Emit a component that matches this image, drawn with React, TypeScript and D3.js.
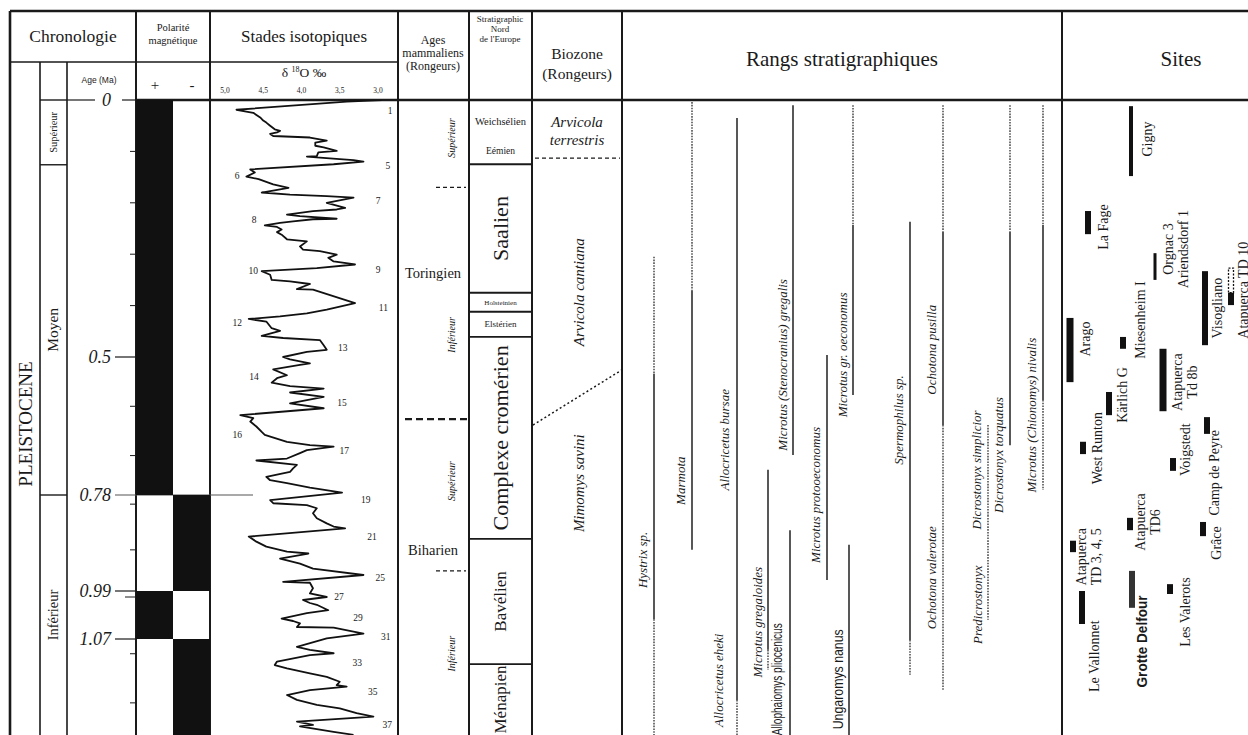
import React from 'react';
import * as d3 from 'd3';

// ---- data (ages in Ma) ----
const ageTicks = [0.1, 0.2, 0.3, 0.4, 0.6, 0.7, 0.8, 0.9, 1.0, 1.1, 1.2];
const ageMarks = [0, 0.5, 0.78, 0.99, 1.07];
const ageMarkText = ['0', '0.5', '0.78', '0.99', '1.07'];

const polarityBreaks = [0, 0.78, 0.99, 1.07, 1.3];
const polaritySign = ['+', '-', '+', '-'];

const subEpochNames = ['Supérieur', 'Moyen', 'Inférieur'];
const subEpochBreaks = [0, 0.126, 0.78, 1.3];

const isoScaleTicks = [5.0, 4.5, 4.0, 3.5, 3.0];
const isoScaleText = ['5,0', '4,5', '4,0', '3,5', '3,0'];

// [age, d18O]
const isoCurve: [number, number][] = [
  [0.0, 2.95], [0.003, 3.41], [0.019, 4.85], [0.025, 4.63], [0.034, 4.54], [0.04, 4.5], [0.044, 4.46],
  [0.05, 4.41], [0.057, 4.35], [0.06, 4.28], [0.063, 4.32], [0.066, 4.41], [0.07, 4.37], [0.073, 3.89],
  [0.079, 3.67], [0.083, 3.82], [0.089, 3.82], [0.092, 3.71], [0.099, 3.54], [0.102, 3.78], [0.109, 3.8],
  [0.11, 3.93], [0.112, 3.76], [0.115, 3.5], [0.117, 3.32], [0.12, 3.19], [0.125, 3.58], [0.135, 4.67],
  [0.141, 4.61], [0.149, 4.72], [0.154, 4.56], [0.164, 4.37], [0.171, 4.17], [0.174, 4.28], [0.18, 4.52],
  [0.184, 4.15], [0.187, 3.67], [0.19, 3.32], [0.2, 3.67], [0.21, 3.43], [0.213, 3.54], [0.216, 3.85],
  [0.223, 4.19], [0.226, 4.02], [0.231, 3.54], [0.232, 3.85], [0.236, 4.11], [0.239, 4.28], [0.244, 4.48],
  [0.247, 4.32], [0.252, 4.26], [0.257, 4.32], [0.262, 4.26], [0.271, 4.19], [0.275, 3.93], [0.285, 4.02],
  [0.291, 3.98], [0.294, 3.76], [0.301, 3.54], [0.307, 3.65], [0.314, 3.58], [0.32, 3.3], [0.327, 3.8],
  [0.333, 4.52], [0.34, 4.41], [0.35, 4.39], [0.353, 4.15], [0.358, 3.89], [0.368, 4.06], [0.369, 3.85],
  [0.395, 3.3], [0.408, 3.67], [0.415, 3.93], [0.421, 4.28], [0.426, 4.69], [0.431, 4.46], [0.444, 4.39],
  [0.449, 4.28], [0.459, 4.52], [0.463, 4.24], [0.467, 3.76], [0.477, 3.71], [0.486, 3.67], [0.49, 3.93],
  [0.5, 4.24], [0.505, 4.15], [0.513, 3.89], [0.516, 4.02], [0.525, 4.37], [0.537, 4.19], [0.543, 4.32],
  [0.552, 4.39], [0.559, 4.15], [0.564, 3.71], [0.572, 4.15], [0.581, 3.71], [0.594, 4.15], [0.604, 3.71],
  [0.618, 4.8], [0.624, 4.63], [0.631, 4.67], [0.641, 4.59], [0.652, 4.52], [0.658, 4.48], [0.672, 4.19],
  [0.679, 3.89], [0.682, 3.58], [0.689, 3.93], [0.695, 4.02], [0.706, 4.19], [0.71, 4.59], [0.719, 4.06],
  [0.726, 4.11], [0.733, 4.15], [0.743, 4.46], [0.75, 4.41], [0.756, 4.19], [0.765, 3.89], [0.775, 3.47],
  [0.791, 4.41], [0.798, 4.37], [0.802, 3.93], [0.809, 3.8], [0.82, 3.85], [0.831, 3.8], [0.842, 3.67],
  [0.849, 3.58], [0.853, 3.43], [0.871, 4.69], [0.882, 4.59], [0.893, 4.46], [0.904, 4.19], [0.908, 3.91],
  [0.919, 4.28], [0.93, 4.02], [0.941, 3.85], [0.955, 3.19], [0.97, 4.24], [0.972, 3.89], [0.984, 3.85],
  [0.994, 3.89], [1.0, 3.67], [1.005, 3.98], [1.01, 3.89], [1.013, 3.8], [1.022, 3.65], [1.027, 3.93],
  [1.036, 4.26], [1.04, 4.11], [1.044, 4.02], [1.05, 4.06], [1.051, 3.58], [1.061, 3.19], [1.069, 3.67],
  [1.086, 4.06], [1.092, 3.89], [1.099, 3.58], [1.103, 3.89], [1.116, 4.32], [1.123, 4.35], [1.13, 4.19],
  [1.14, 3.89], [1.147, 3.67], [1.157, 3.5], [1.164, 3.54], [1.167, 3.41], [1.174, 3.89], [1.184, 4.19],
  [1.194, 4.06], [1.204, 3.8], [1.211, 3.5], [1.221, 3.28], [1.228, 3.06], [1.235, 3.76], [1.238, 4.06],
  [1.245, 3.85], [1.248, 4.02], [1.259, 3.58], [1.265, 3.32],
];

const stageNums = ['1', '5', '6', '7', '8', '9', '10', '11', '12', '13', '14', '15', '16', '17', '19', '21', '25', '27', '29', '31', '33', '35', '37'];
const stageAge = [0.021, 0.129, 0.148, 0.197, 0.234, 0.33, 0.332, 0.404, 0.434, 0.482, 0.541, 0.593, 0.658, 0.691, 0.791, 0.872, 0.962, 1.0, 1.035, 1.067, 1.119, 1.178, 1.245];
const stageD18O = [2.84, 2.87, 4.84, 3.0, 4.62, 3.0, 4.63, 2.93, 4.84, 3.46, 4.62, 3.47, 4.84, 3.44, 3.16, 3.08, 2.97, 3.51, 3.26, 2.9, 3.27, 3.07, 2.88];

const mammalAges = ['Toringien', 'Biharien'];
const mammalAgeAt = [0.337, 0.901];
const mammalSub = ['Supérieur', 'Inférieur', 'Supérieur', 'Inférieur'];
const mammalSubAt = [0.074, 0.457, 0.752, 1.1];
const mammalLimits = [0.17, 0.626, 0.946];
const mammalLimitKind = ['minor', 'major', 'minor'];

const stratNames = ['Weichsélien', 'Saalien', 'Holsteinien', 'Elstérien', 'Complexe cromérien', 'Bavélien', 'Ménapien'];
const stratBreaks = [0, 0.125, 0.375, 0.412, 0.461, 0.876, 1.121, 1.3];

const biozoneNames = ['Arvicola cantiana', 'Mimomys savini'];
const biozoneAt = [0.374, 0.756];
const biozoneTop = ['Arvicola', 'terrestris'];
const biozoneTopAt = 0.058;
const biozoneLimit = 0.113;
const biozoneSlope = [0.638, 0.526];

const taxa = [
  'Hystrix sp.', 'Marmota', 'Allocricetus bursae', 'Allocricetus eheki', 'Microtus gregaloides',
  'Allophaiomys pliocenicus', 'Microtus (Stenocranius) gregalis', 'Microtus protooeconomus', 'Ungaromys nanus',
  'Microtus gr. oeconomus', 'Spermophilus sp.', 'Ochotona pusilla', 'Ochotona valerotae',
  'Dicrostonyx simplicior', 'Predicrostonyx', 'Dicrostonyx torquatus', 'Microtus (Chionomys) nivalis',
];
type Seg = [number, number, 'solid' | 'dotted'];
const taxaRanges: Seg[][] = [
  [[0.305, 0.534, 'dotted'], [0.534, 1.037, 'solid'], [1.037, 1.3, 'dotted']],
  [[0.004, 0.37, 'dotted'], [0.37, 0.9, 'solid']],
  [[0.035, 1.194, 'solid'], [1.194, 1.3, 'dotted']],
  [],
  [[0.729, 1.092, 'solid'], [1.092, 1.133, 'dotted']],
  [[0.857, 1.3, 'solid']],
  [[0.01, 0.699, 'solid']],
  [[0.496, 0.966, 'solid']],
  [[0.889, 1.3, 'solid']],
  [[0.01, 0.243, 'dotted'], [0.243, 0.577, 'solid']],
  [[0.237, 1.072, 'solid'], [1.072, 1.143, 'dotted']],
  [[0.01, 0.257, 'dotted'], [0.257, 0.638, 'solid']],
  [[0.638, 1.174, 'dotted']],
  [[0.638, 0.824, 'dotted']],
  [[0.824, 1.038, 'dotted']],
  [[0.01, 0.257, 'dotted'], [0.257, 0.679, 'solid']],
  [[0.01, 0.243, 'dotted'], [0.243, 0.587, 'solid'], [0.587, 0.77, 'dotted']],
];
const taxaLabelAt = [0.922, 0.751, 0.668, 1.154, 1.042, 1.152, 0.516, 0.78, 1.152, 0.496, 0.628, 0.486, 0.961, 0.729, 1.013, 0.699, 0.618];

const sites = [
  'Gigny', 'La Fage', 'Orgnac 3|Ariendsdorf 1', 'Visogliano', 'Atapuerca TD 10', 'Miesenheim I', 'Arago',
  'Atapuerca|Td 8b', 'Kärlich G', 'West Runton', 'Camp de Peyre', 'Voigstedt', 'Atapuerca|TD6',
  'Atapuerca|TD 3, 4, 5', 'Grâce', 'Les Valerots', 'Grotte Delfour', 'Le Vallonnet',
];
const siteRange: [number, number][] = [
  [0.012, 0.148], [0.216, 0.261], [0.298, 0.35], [0.333, 0.477], [0.375, 0.399], [0.461, 0.484], [0.424, 0.551],
  [0.484, 0.61], [0.571, 0.618], [0.672, 0.697], [0.622, 0.656], [0.705, 0.731], [0.83, 0.857],
  [0.88, 0.905], [0.839, 0.87], [0.975, 0.995], [0.946, 1.018], [0.99, 1.045],
];
const siteDoubtful: ([number, number] | null)[] = [null, null, null, null, [0.327, 0.375], null, null, null, null, null, null, null, null, null, null, null, null, null];
const siteLabelAt = [0.076, 0.247, 0.29, 0.405, 0.37, 0.428, 0.465, 0.551, 0.577, 0.685, 0.735, 0.688, 0.839, 0.915, 0.885, 1.025, 1.075, 1.105];

// ---- layout ----
const W = 1248;
const H = 735;
const COL = { left: 10, sub1: 40, sub2: 67, pol: 136, polMid: 173, iso: 210, ages: 398, strat: 469, bio: 532, rangs: 622, sites: 1062 };
const ROW = { top: 11, head: 62, body: 100 };
const taxaLineX = [654, 692, 737, 0, 768, 790, 793, 827, 849, 853, 910, 943, 943, 988, 988, 1010, 1043];
const taxaLabelX = [642, 680, 724, 718, 757, 777, 782, 815, 838, 842, 898, 931, 931, 976, 977, 998, 1031];
const taxaLabelLen = [0, 0, 0, 0, 0, 112, 0, 0, 100, 0, 0, 0, 0, 0, 0, 0, 0];
const siteBarX = [1131, 1088, 1155, 1205, 1231, 1123, 1070, 1163, 1109, 1083, 1207, 1173, 1130, 1073, 1203, 1170, 1132, 1082];
const siteBarW = [4, 6, 3, 6, 6, 6, 7, 7, 6, 6, 6, 6, 6, 6, 6, 6, 6, 6];
const siteLabelX = [1147, 1103, 1168, 1217, 1243, 1140, 1085, 1177, 1122, 1097, 1214, 1185, 1140, 1081, 1216, 1185, 1142, 1094];

const SERIF = "'Liberation Serif', 'Times New Roman', serif";
const SANS = "'Liberation Sans', Arial, sans-serif";
const NARROW = "'Liberation Sans Narrow', 'Liberation Sans', sans-serif";
const INK = '#1a1a1a';

type VProps = {
  x: number; y: number; size: number; italic?: boolean; bold?: boolean; family?: string;
  fill?: string; len?: number; children: React.ReactNode;
};
const VText = ({ x, y, size, italic, bold, family, fill, len, children }: VProps) => (
  <text
    transform={`translate(${x},${y}) rotate(-90)`}
    textAnchor="middle"
    dy="0.35em"
    fontSize={size}
    fontStyle={italic ? 'italic' : 'normal'}
    fontWeight={bold ? 700 : 400}
    style={{ fontFamily: family || SERIF }}
    fill={fill || INK}
    textLength={len || undefined}
    lengthAdjust={len ? 'spacingAndGlyphs' : undefined}
  >
    {children}
  </text>
);

export default function App() {
  const yAge = d3.scaleLinear().domain([0, 0.5, 0.78, 0.99, 1.07, 1.3]).range([100, 357, 495, 591, 639, 752]);
  const xIso = d3.scaleLinear().domain([5, 3]).range([225, 378]);
  const curve = d3.line<[number, number]>().x(d => xIso(d[1])).y(d => yAge(d[0]));
  const yc = (a: number) => Math.min(yAge(a), H);

  const vlines = [COL.left, COL.pol, COL.iso, COL.ages, COL.strat, COL.bio, COL.rangs, COL.sites];

  return (
    <svg width={W} height={H} style={{ position: 'absolute', left: 0, top: 0, background: '#fff' }}>
      <style>{`text { font-family: 'Liberation Serif', 'Times New Roman', serif; fill: ${INK}; }`}</style>
      <defs>
        <clipPath id="bodyClip"><rect x={0} y={ROW.body} width={W} height={H - ROW.body} /></clipPath>
        <clipPath id="agesHead"><rect x={COL.ages} y={ROW.top} width={COL.strat - COL.ages} height={ROW.body - ROW.top} /></clipPath>
        <clipPath id="stratHead"><rect x={COL.strat} y={ROW.top} width={COL.bio - COL.strat} height={ROW.body - ROW.top} /></clipPath>
      </defs>

      {/* frame */}
      <line x1={COL.left} x2={W} y1={ROW.top} y2={ROW.top} stroke={INK} strokeWidth={2.4} />
      <line x1={COL.left} x2={COL.ages} y1={ROW.head} y2={ROW.head} stroke={INK} strokeWidth={1.6} />
      <line x1={COL.pol} x2={W} y1={ROW.body} y2={ROW.body} stroke={INK} strokeWidth={2.4} />
      {vlines.map((x, i) => (
        <line key={i} x1={x} x2={x} y1={ROW.top} y2={H} stroke={INK} strokeWidth={i === 0 ? 2.6 : 2} />
      ))}
      <line x1={COL.sub1} x2={COL.sub1} y1={ROW.head} y2={H} stroke={INK} strokeWidth={1.6} />
      <line x1={COL.sub2} x2={COL.sub2} y1={ROW.head} y2={H} stroke={INK} strokeWidth={1.6} />

      {/* headers */}
      <text x={73} y={42} textAnchor="middle" fontSize={17.5}>Chronologie</text>
      <text x={173} y={31} textAnchor="middle" fontSize={10.5}>Polarité</text>
      <text x={173} y={44} textAnchor="middle" fontSize={10.5}>magnétique</text>
      <text x={304} y={42} textAnchor="middle" fontSize={17}>Stades isotopiques</text>
      <g clipPath="url(#agesHead)">
        <text x={433} y={44} textAnchor="middle" fontSize={12}>Ages</text>
        <text x={433} y={57} textAnchor="middle" fontSize={12}>mammaliens</text>
        <text x={433} y={70} textAnchor="middle" fontSize={12}>(Rongeurs)</text>
      </g>
      <g clipPath="url(#stratHead)">
        <text x={500} y={22} textAnchor="middle" fontSize={9}>Stratigraphic</text>
        <text x={500} y={32} textAnchor="middle" fontSize={9}>Nord</text>
        <text x={500} y={42} textAnchor="middle" fontSize={9}>de l'Europe</text>
      </g>
      <text x={577} y={59} textAnchor="middle" fontSize={15.5}>Biozone</text>
      <text x={577} y={79} textAnchor="middle" fontSize={15.5}>(Rongeurs)</text>
      <text x={842} y={66} textAnchor="middle" fontSize={21}>Rangs stratigraphiques</text>
      <text x={1181} y={66} textAnchor="middle" fontSize={21}>Sites</text>

      {/* sub header */}
      <text x={99} y={83} textAnchor="middle" fontSize={8.5} style={{ fontFamily: SANS }}>Age (Ma)</text>
      <text x={155} y={90} textAnchor="middle" fontSize={15}>+</text>
      <text x={192} y={90} textAnchor="middle" fontSize={15}>-</text>
      <text x={304} y={77} textAnchor="middle" fontSize={13.5}>
        δ <tspan fontSize={8} dy={-5}>18</tspan><tspan dy={5}>O ‰</tspan>
      </text>
      {isoScaleTicks.map((v, i) => (
        <text key={i} x={xIso(v)} y={93} textAnchor="middle" fontSize={7.5}>{isoScaleText[i]}</text>
      ))}

      {/* Chronologie */}
      <VText x={25} y={424} size={19}>PLEISTOCENE</VText>
      <line x1={COL.sub1} x2={COL.sub2} y1={yAge(0)} y2={yAge(0)} stroke={INK} strokeWidth={1.4} />
      {subEpochNames.map((n, i) => {
        const y0 = yc(subEpochBreaks[i]);
        const y1 = yc(subEpochBreaks[i + 1]);
        return (
          <g key={n}>
            {i > 0 && <line x1={COL.sub1} x2={COL.sub2} y1={y0} y2={y0} stroke={INK} strokeWidth={1.4} />}
            <VText x={53} y={(y0 + y1) / 2} size={i === 0 ? 10.5 : i === 1 ? 15.5 : 14.5}>{n}</VText>
          </g>
        );
      })}
      {ageTicks.map(t => (
        <line key={t} x1={t === 1.0 ? 125 : 130} x2={COL.pol} y1={yAge(t)} y2={yAge(t)} stroke={INK} strokeWidth={1} />
      ))}
      {ageMarks.map((a, i) => (
        <g key={a}>
          <text x={111} y={yAge(a) + 6} textAnchor="end" fontSize={18} fontStyle="italic">{ageMarkText[i]}</text>
          <line x1={a === 0 ? 122 : 115} x2={a === 0.78 ? 253 : COL.pol} y1={yAge(a)} y2={yAge(a)} stroke={a === 0.78 ? '#555' : INK} strokeWidth={1.2} />
          {a === 0 && <line x1={COL.sub2} x2={95} y1={yAge(a)} y2={yAge(a)} stroke={INK} strokeWidth={1.2} />}
        </g>
      ))}

      {/* polarity */}
      {polaritySign.map((s, i) => {
        const y0 = yAge(polarityBreaks[i]);
        const y1 = yc(polarityBreaks[i + 1]);
        const x0 = s === '+' ? COL.pol : COL.polMid;
        return <rect key={i} x={x0} y={y0} width={COL.polMid - COL.pol} height={y1 - y0} fill="#111" />;
      })}

      {/* isotope curve */}
      <g clipPath="url(#bodyClip)">
        <path d={curve(isoCurve) || ''} fill="none" stroke="#111" strokeWidth={1.8} strokeLinejoin="round" />
      </g>
      {stageNums.map((n, i) => (
        <text key={n} x={xIso(stageD18O[i])} y={yAge(stageAge[i]) + 3} textAnchor="middle" fontSize={9.5}>{n}</text>
      ))}

      {/* Ages mammaliens */}
      {mammalAges.map((n, i) => (
        <text key={n} x={433} y={yAge(mammalAgeAt[i]) + 5} textAnchor="middle" fontSize={14.5}>{n}</text>
      ))}
      {mammalSub.map((n, i) => (
        <VText key={i} x={451} y={yAge(mammalSubAt[i])} size={10} italic>{n}</VText>
      ))}
      {mammalLimits.map((a, i) => (
        mammalLimitKind[i] === 'major'
          ? <line key={i} x1={405} x2={COL.strat} y1={yAge(a)} y2={yAge(a)} stroke={INK} strokeWidth={2.2} strokeDasharray="7,4" />
          : <line key={i} x1={436} x2={466} y1={yAge(a)} y2={yAge(a)} stroke={INK} strokeWidth={1.3} strokeDasharray="4,3" />
      ))}

      {/* Stratigraphie Nord de l'Europe */}
      {stratNames.map((n, i) => {
        const y0 = yAge(stratBreaks[i]);
        const y1 = yc(stratBreaks[i + 1]);
        const mid = (y0 + y1) / 2;
        const cx = (COL.strat + COL.bio) / 2;
        return (
          <g key={n}>
            {i > 0 && <line x1={COL.strat} x2={COL.bio} y1={y0} y2={y0} stroke={INK} strokeWidth={1.8} />}
            {i === 0 && (
              <>
                <text x={cx} y={y0 + 25} textAnchor="middle" fontSize={10.5}>{n}</text>
                <text x={cx} y={y0 + 54} textAnchor="middle" fontSize={9.5}>Eémien</text>
              </>
            )}
            {(i === 2 || i === 3) && (
              <text x={cx} y={mid + 3} textAnchor="middle" fontSize={i === 2 ? 7 : 9}>{n}</text>
            )}
            {(i === 1 || i === 4) && <VText x={cx} y={mid} size={22}>{n}</VText>}
            {i >= 5 && <VText x={cx} y={mid} size={17}>{n}</VText>}
          </g>
        );
      })}

      {/* Biozone */}
      <text x={577} y={yAge(biozoneTopAt) - 3} textAnchor="middle" fontSize={15} fontStyle="italic">{biozoneTop[0]}</text>
      <text x={577} y={yAge(biozoneTopAt) + 15} textAnchor="middle" fontSize={15} fontStyle="italic">{biozoneTop[1]}</text>
      <line x1={535} x2={620} y1={yAge(biozoneLimit)} y2={yAge(biozoneLimit)} stroke={INK} strokeWidth={1.3} strokeDasharray="4,3" />
      <line x1={COL.bio + 1} x2={COL.rangs} y1={yAge(biozoneSlope[0])} y2={yAge(biozoneSlope[1])} stroke={INK} strokeWidth={1.5} strokeDasharray="2,2.5" />
      {biozoneNames.map((n, i) => (
        <VText key={n} x={579} y={yAge(biozoneAt[i])} size={15} italic>{n}</VText>
      ))}

      {/* Rangs stratigraphiques */}
      <g clipPath="url(#bodyClip)">
        {taxaRanges.map((segs, i) => segs.map((s, j) => (
          <line
            key={`${i}-${j}`}
            x1={taxaLineX[i]} x2={taxaLineX[i]}
            y1={yAge(s[0])} y2={yAge(s[1])}
            stroke="#3a3a3a"
            strokeWidth={s[2] === 'solid' ? 1.7 : 1.4}
            strokeDasharray={s[2] === 'dotted' ? '1.6,1.2' : undefined}
          />
        )))}
      </g>
      {taxa.map((n, i) => {
        const sans = taxaLabelLen[i] > 0;
        return (
          <VText key={n} x={taxaLabelX[i]} y={yAge(taxaLabelAt[i])} size={sans ? 15 : 13} italic={!sans}
            family={sans ? NARROW : SERIF} len={taxaLabelLen[i]}>
            {n}
          </VText>
        );
      })}

      {/* Sites */}
      {sites.map((s, i) => {
        const [a0, a1] = siteRange[i];
        const w = siteBarW[i];
        const doubt = siteDoubtful[i];
        const bold = s === 'Grotte Delfour';
        const lines = s.split('|');
        return (
          <g key={s}>
            <rect x={siteBarX[i] - w / 2} y={yAge(a0)} width={w} height={yAge(a1) - yAge(a0)} fill={bold ? '#333' : '#111'} />
            {doubt && (
              <rect x={siteBarX[i] - w / 2 + 0.5} y={yAge(doubt[0])} width={w - 1} height={yAge(doubt[1]) - yAge(doubt[0])}
                fill="none" stroke="#111" strokeWidth={1.3} strokeDasharray="2,1.5" />
            )}
            {lines.map((l, k) => (
              <VText key={k} x={siteLabelX[i] + k * 15} y={yAge(siteLabelAt[i])} size={bold ? 15 : 14}
                bold={bold} family={bold ? NARROW : SERIF} len={bold ? 92 : undefined}>
                {l}
              </VText>
            ))}
          </g>
        );
      })}
    </svg>
  );
}
